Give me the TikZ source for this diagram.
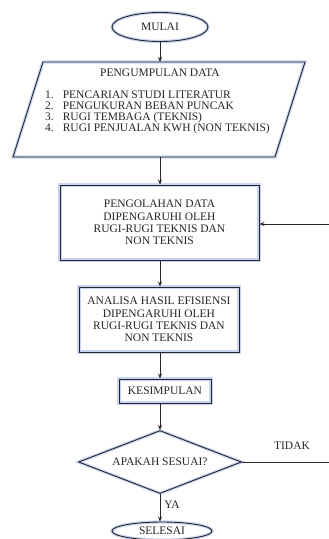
\documentclass[tikz,border=0pt]{standalone}
\usepackage{fontspec}
\setmainfont{Liberation Serif}
\usetikzlibrary{shapes.geometric,arrows.meta}
\definecolor{glow}{RGB}{200,212,245}
\begin{document}
\begin{tikzpicture}[x=1pt,y=-1pt,
  every node/.style={font=\fontsize{11.5}{12.3}\selectfont, text=black!85},
  glowy/.style={preaction={draw=glow,line width=3.2pt}},
  boxy/.style={draw=black!85,line width=0.9pt,glowy,align=center,inner sep=0pt},
  arr/.style={-{Stealth[length=5pt,width=4pt]},line width=0.8pt,draw=black!85},
  ln/.style={line width=0.8pt,draw=black!85}]
\useasboundingbox (0,0) rectangle (329,539);
\fill[white] (0,0) rectangle (329,539);
% start
\node[boxy,ellipse,minimum width=96pt,minimum height=29pt] (mulai) at (160,27) {MULAI};
% parallelogram
\coordinate (p1) at (43,62); \coordinate (p2) at (305,62);
\coordinate (p3) at (275,157); \coordinate (p4) at (13,157);
\draw[draw=black!85,line width=0.9pt,glowy] (p1) -- (p2) -- (p3) -- (p4) -- cycle;
\coordinate (pgtop) at (160,62);
\coordinate (pgbot) at (160,157);
\node (pgtitle) at (160,73) {PENGUMPULAN DATA};
\node[anchor=north west,inner sep=0pt,align=left] (pglist) at (45,90) {%
\begin{tabular}{@{}l@{\hspace{9pt}}l@{}}
1. & PENCARIAN STUDI LITERATUR\\[-1.4pt]
2. & PENGUKURAN BEBAN PUNCAK\\[-1.4pt]
3. & RUGI TEMBAGA (TEKNIS)\\[-1.4pt]
4. & RUGI PENJUALAN KWH (NON TEKNIS)
\end{tabular}};
% process boxes
\node[boxy,rectangle,minimum width=199pt,minimum height=75pt] (olah) at (159.5,222.5)
  {PENGOLAHAN DATA\\DIPENGARUHI OLEH\\RUGI-RUGI TEKNIS DAN\\NON TEKNIS};
\node[boxy,rectangle,minimum width=160pt,minimum height=65pt] (analisa) at (159,319.5)
  {ANALISA HASIL EFISIENSI\\DIPENGARUHI OLEH\\RUGI-RUGI TEKNIS DAN\\NON TEKNIS};
\node[boxy,rectangle,minimum width=92pt,minimum height=24pt] (simpul) at (165,391) {KESIMPULAN};
\node[boxy,diamond,minimum width=163pt,minimum height=63pt,aspect=2.6] (sesuai) at (160,462) {APAKAH SESUAI?};
\node[boxy,ellipse,minimum width=100pt,minimum height=18pt] (selesai) at (162,531) {SELESAI};
% connectors
\draw[arr] (mulai.south) -- (pgtop);
\draw[arr] (pgbot) -- (olah.north -| pgbot);
\draw[arr] (olah.south -| pgbot) -- (analisa.north -| pgbot);
\draw[arr] (analisa.south -| pgbot) -- (simpul.north -| pgbot);
\draw[arr] (simpul.south -| pgbot) -- (sesuai.north);
\draw[arr] (sesuai.south) -- (selesai.north -| sesuai.south);
\coordinate (r1) at (329,462);
\coordinate (r2) at (329,224);
\draw[ln] (sesuai.east) -- (r1);
\draw[arr] (r2) -- (olah.east |- r2);
\node (tidak) at (292,446) {TIDAK};
\node (ya) at (172,505) {YA};
\end{tikzpicture}
\end{document}
